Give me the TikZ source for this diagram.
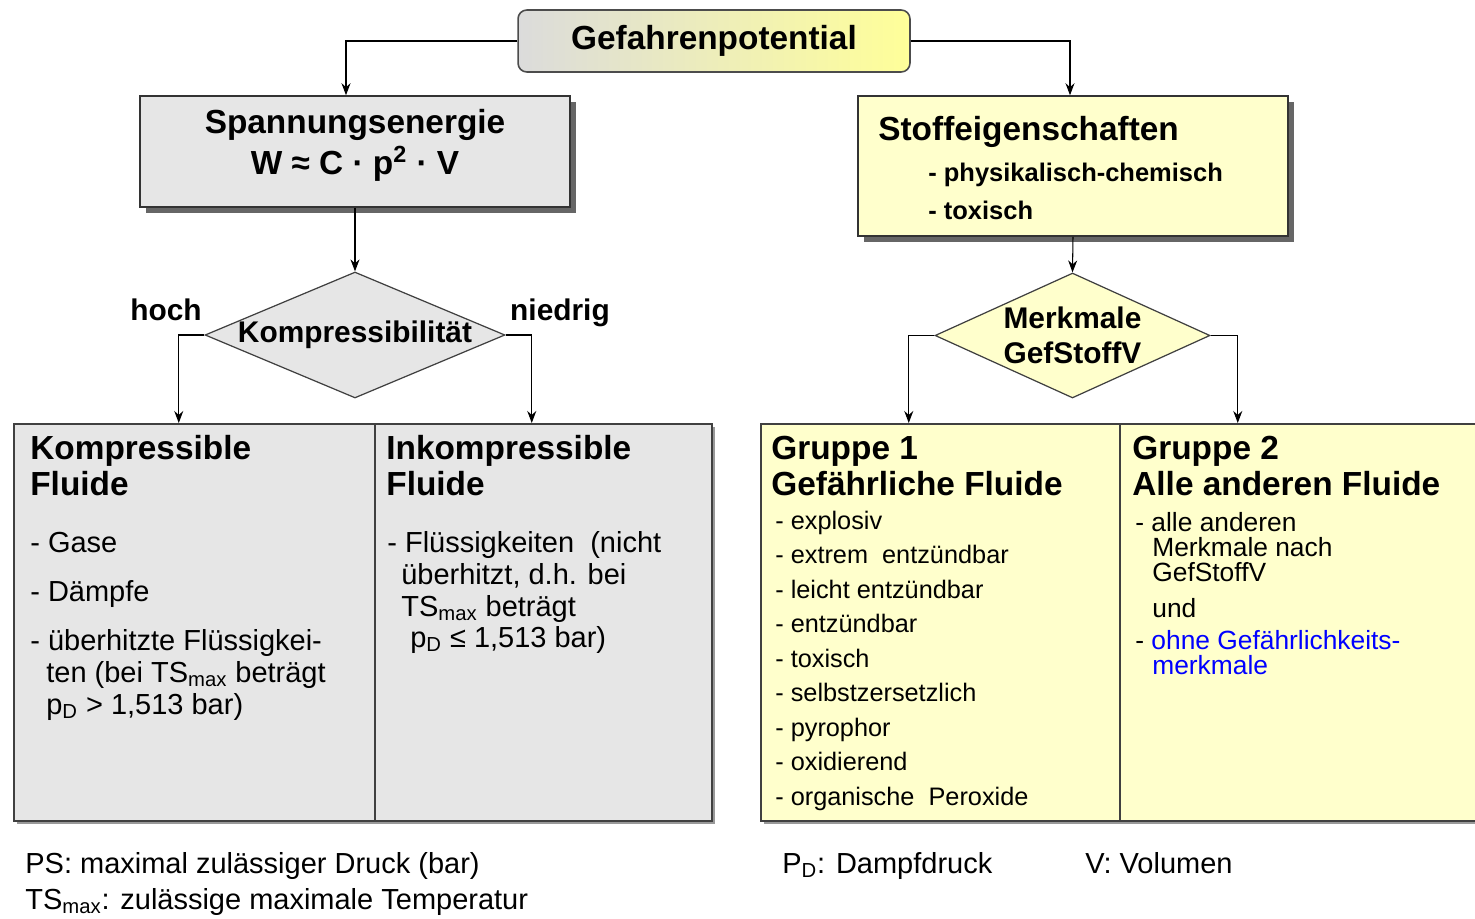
\documentclass[tikz,border=0pt]{standalone}
\usepackage{fontspec}
\setmainfont{Liberation Sans}
\usetikzlibrary{arrows.meta,shapes.geometric,shadows}

\definecolor{boxgray}{RGB}{230,230,230}
\definecolor{boxyellow}{RGB}{255,255,204}

\tikzset{
  arr/.style={-{Stealth[length=2.4mm,width=1.8mm]}, line width=0.6pt},
  upbox/.style={draw=black!80, line width=0.9pt, inner sep=0,
    drop shadow={shadow xshift=0.12cm, shadow yshift=-0.12cm, fill=black!60, opacity=1}},
  lowbox/.style={draw=black!75, line width=0.9pt, anchor=north west, inner sep=0,
    drop shadow={shadow xshift=0.06cm, shadow yshift=-0.06cm, fill=black!40, opacity=1}},
  dia/.style={diamond, draw=black!75, line width=0.7pt, inner sep=0},
  headtxt/.style={font=\fontsize{19}{22}\selectfont\bfseries, anchor=base west, inner sep=0},
  subtxt/.style={font=\fontsize{14.5}{17}\selectfont\bfseries, anchor=base west, inner sep=0},
  bodytxt/.style={font=\fontsize{16.5}{19}\selectfont, anchor=base west, inner sep=0},
  tighttxt/.style={font=\fontsize{15}{17}\selectfont, anchor=base west, inner sep=0},
  listtxt/.style={font=\fontsize{14.4}{17}\selectfont, anchor=base west, inner sep=0},
  diatxt/.style={font=\fontsize{17}{19.8}\selectfont\bfseries, align=center, inner sep=0},
}

\begin{document}
\begin{tikzpicture}[x=0.02cm, y=-0.02cm]
    \useasboundingbox (0,0) rectangle (1475,919);

    % Kopf
    \node[draw=black!70, line width=0.9pt, rounded corners=5pt,
          left color=black!14, right color=yellow!40,
          minimum width=7.84cm, minimum height=1.24cm,
          font=\fontsize{19}{22}\selectfont\bfseries] (gefahr) at (714,41) {Gefahrenpotential};

    % obere Kaesten
    \node[upbox, fill=boxgray, minimum width=8.6cm, minimum height=2.22cm] (spann) at (355,151.5) {};
    \node[headtxt, anchor=base] at (355,133) {Spannungsenergie};
    \node[headtxt, anchor=base] at (355,174) {W ≈ C · p\textsuperscript{2} · V};

    \node[upbox, fill=boxyellow, minimum width=8.6cm, minimum height=2.8cm] (stoff) at (1073,166) {};
    \node[headtxt] at (878,141) {Stoffeigenschaften};
    \node[subtxt] at (928,181) {- physikalisch-chemisch};
    \node[subtxt] at (928,219) {- toxisch};

    % Entscheidungen
    \node[dia, fill=boxgray, minimum width=6cm, minimum height=2.52cm] (kompr) at (355,335) {};
    \node[diatxt] at (kompr) {Kompressibilität};
    \node[dia, fill=boxyellow, minimum width=5.5cm, minimum height=2.5cm] (merk) at (1072.5,335.5) {};
    \node[diatxt] at (merk) {Merkmale\\GefStoffV};

    \node[diatxt, anchor=base] at (166,320) {hoch};
    \node[diatxt, anchor=base] at (560,320) {niedrig};

    % untere Kaesten
    \node[lowbox, fill=boxgray, minimum width=7.22cm, minimum height=7.94cm] (komp) at (13,423) {};
    \node[lowbox, fill=boxgray, minimum width=6.74cm, minimum height=7.94cm] (inkomp) at (374,423) {};
    \node[lowbox, fill=boxyellow, minimum width=7.18cm, minimum height=7.94cm] (gr1) at (760,423) {};
    \node[lowbox, fill=boxyellow, minimum width=7.4cm, minimum height=7.94cm] (gr2) at (1119,423) {};

    % Verbindungen
    \draw[arr] (gefahr.west) -| ([xshift=-0.18cm]spann.north);
    \draw[arr] (gefahr.east) -| ([xshift=-0.06cm]stoff.north);
    \draw[arr] (spann.south) -- (kompr.north);
    \draw[arr] (stoff.south) -- (merk.north);
    \draw[arr] (kompr.west) -| ([xshift=-0.31cm]komp.north);
    \draw[arr] (kompr.east) -| ([xshift=-0.23cm]inkomp.north);
    \draw[arr] (merk.west) -| ([xshift=-0.63cm]gr1.north);
    \draw[arr] (merk.east) -| ([xshift=-1.34cm]gr2.north);

    % Kompressible Fluide
    \node[headtxt] at (30,459) {Kompressible};
    \node[headtxt] at (30,495) {Fluide};
    \node[bodytxt] at (30,552) {- Gase};
    \node[bodytxt] at (30,601) {- Dämpfe};
    \node[bodytxt] at (30,650) {- überhitzte Flüssigkei-};
    \node[bodytxt] at (46,682) {ten (bei TS\textsubscript{max} beträgt};
    \node[bodytxt] at (46,714) {p\textsubscript{D} > 1,513 bar)};

    % Inkompressible Fluide
    \node[headtxt] at (386,459) {Inkompressible};
    \node[headtxt] at (386,495) {Fluide};
    \node[bodytxt] at (387,552) {- Flüssigkeiten\ \ (nicht};
    \node[bodytxt] at (401,584) {überhitzt, d.h. bei};
    \node[bodytxt] at (401,616) {TS\textsubscript{max} beträgt};
    \node[bodytxt] at (410,647) {p\textsubscript{D} ≤ 1,513 bar)};

    % Gruppe 1
    \node[headtxt] at (771,459) {Gruppe 1};
    \node[headtxt] at (771,495) {Gefährliche Fluide};
    \foreach \t [count=\i from 0] in {explosiv, extrem\ \ entzündbar, leicht entzündbar,
        entzündbar, toxisch, selbstzersetzlich, pyrophor, oxidierend, organische\ \ Peroxide}
      \node[listtxt] at (775,529+34.5*\i) {- \t};

    % Gruppe 2
    \node[headtxt] at (1132,459) {Gruppe 2};
    \node[headtxt] at (1132,495) {Alle anderen Fluide};
    \node[tighttxt] at (1135,531) {- alle anderen};
    \node[tighttxt] at (1152,556) {Merkmale nach};
    \node[tighttxt] at (1152,581) {GefStoffV};
    \node[tighttxt] at (1152,617) {und};
    \node[tighttxt, text=blue] at (1135,649) {{\color{black}-} ohne Gefährlichkeits-};
    \node[tighttxt, text=blue] at (1152,674) {merkmale};

    % Legende
    \node[bodytxt] at (25,873) {PS: maximal zulässiger Druck (bar)};
    \node[bodytxt] at (25,909) {TS\textsubscript{max}: zulässige maximale Temperatur};
    \node[bodytxt] at (782,873) {P\textsubscript{D}: Dampfdruck};
    \node[bodytxt] at (1085,873) {V: Volumen};
\end{tikzpicture}
\end{document}
